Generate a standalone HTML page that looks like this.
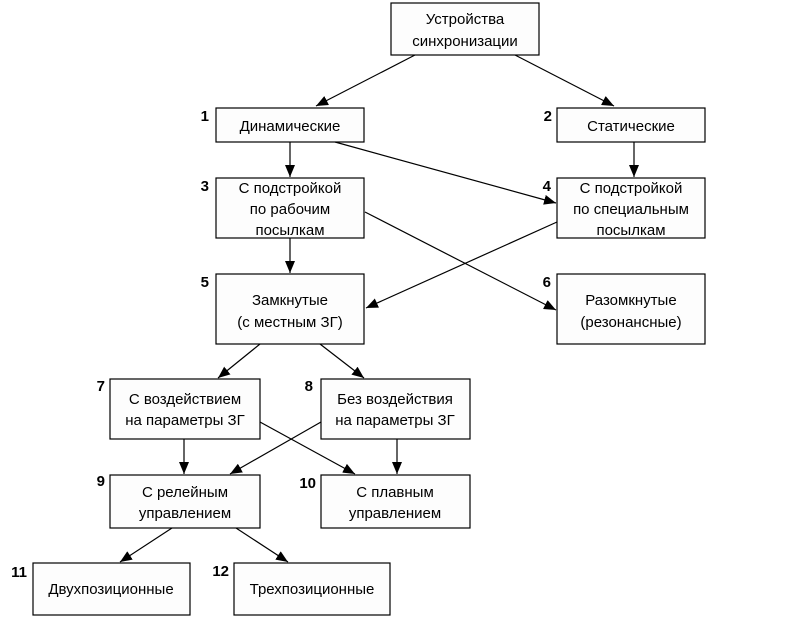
<!DOCTYPE html>
<html><head><meta charset="utf-8"><style>html,body{margin:0;padding:0;background:#fff}svg{display:block}</style></head>
<body>
<svg width="809" height="618" viewBox="0 0 809 618" xmlns="http://www.w3.org/2000/svg" font-family="Liberation Sans, sans-serif">
<defs><marker id="a" markerWidth="12" markerHeight="10" refX="12" refY="5" orient="auto" markerUnits="userSpaceOnUse"><path d="M0,0 L12,5 L0,10 z" fill="#000"/></marker></defs>
<g fill="#fdfdfd" stroke="#000" stroke-width="1.2">
<rect x="391" y="3" width="148" height="52"/>
<rect x="216" y="108" width="148" height="34"/>
<rect x="557" y="108" width="148" height="34"/>
<rect x="216" y="178" width="148" height="60"/>
<rect x="557" y="178" width="148" height="60"/>
<rect x="216" y="274" width="148" height="70"/>
<rect x="557" y="274" width="148" height="70"/>
<rect x="110" y="379" width="150" height="60"/>
<rect x="321" y="379" width="149" height="60"/>
<rect x="110" y="475" width="150" height="53"/>
<rect x="321" y="475" width="149" height="53"/>
<rect x="33" y="563" width="157" height="52"/>
<rect x="234" y="563" width="156" height="52"/>
</g>
<g stroke="#000" stroke-width="1.2" marker-end="url(#a)">
<line x1="415" y1="55" x2="316" y2="106"/>
<line x1="515" y1="55" x2="614" y2="106"/>
<line x1="290" y1="142" x2="290" y2="177"/>
<line x1="335" y1="142" x2="556" y2="203"/>
<line x1="634" y1="142" x2="634" y2="177"/>
<line x1="290" y1="238" x2="290" y2="273"/>
<line x1="365" y1="212" x2="556" y2="310"/>
<line x1="557" y1="222" x2="366" y2="308"/>
<line x1="260" y1="344" x2="218" y2="378"/>
<line x1="320" y1="344" x2="364" y2="378"/>
<line x1="184" y1="439" x2="184" y2="474"/>
<line x1="260" y1="422" x2="355" y2="474"/>
<line x1="321" y1="422" x2="230" y2="474"/>
<line x1="397" y1="439" x2="397" y2="474"/>
<line x1="172" y1="528" x2="120" y2="562"/>
<line x1="236" y1="528" x2="288" y2="562"/>
</g>
<g font-size="15" text-anchor="middle" fill="#000">
<text x="465" y="24">Устройства</text><text x="465" y="46">синхронизации</text>
<text x="290" y="131">Динамические</text>
<text x="631" y="131">Статические</text>
<text x="290" y="193">С подстройкой</text><text x="290" y="214">по рабочим</text><text x="290" y="235">посылкам</text>
<text x="631" y="193">С подстройкой</text><text x="631" y="214">по специальным</text><text x="631" y="235">посылкам</text>
<text x="290" y="305">Замкнутые</text><text x="290" y="327">(с местным ЗГ)</text>
<text x="631" y="305">Разомкнутые</text><text x="631" y="327">(резонансные)</text>
<text x="185" y="404">С воздействием</text><text x="185" y="425">на параметры ЗГ</text>
<text x="395" y="404">Без воздействия</text><text x="395" y="425">на параметры ЗГ</text>
<text x="185" y="497">С релейным</text><text x="185" y="518">управлением</text>
<text x="395" y="497">С плавным</text><text x="395" y="518">управлением</text>
<text x="111" y="594">Двухпозиционные</text>
<text x="312" y="594">Трехпозиционные</text>
</g>
<g font-size="15" font-weight="bold" text-anchor="end" fill="#000">
<text x="209" y="121">1</text><text x="552" y="121">2</text>
<text x="209" y="191">3</text><text x="551" y="191">4</text>
<text x="209" y="287">5</text><text x="551" y="287">6</text>
<text x="105" y="391">7</text><text x="313" y="391">8</text>
<text x="105" y="486">9</text><text x="316" y="488">10</text>
<text x="27" y="577">11</text><text x="229" y="576">12</text>
</g>
</svg>
</body></html>
